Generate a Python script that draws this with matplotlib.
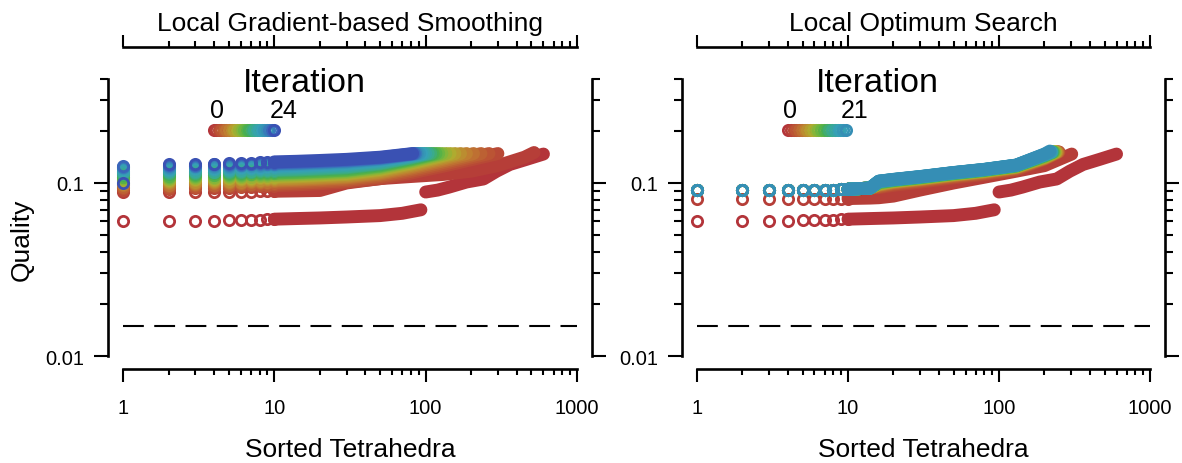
import numpy as np
import matplotlib
matplotlib.use("Agg")
import matplotlib.pyplot as plt
from matplotlib.colors import LinearSegmentedColormap

plt.rcParams['font.family'] = ['Liberation Sans', 'DejaVu Sans']

# ------------------------------------------------------------------ data
PANEL_TITLES = ["Local Gradient-based Smoothing", "Local Optimum Search"]
X_LABEL = "Sorted Tetrahedra"
Y_LABEL = "Quality"
LEGEND_TITLE = "Iteration"
X_TICKS = [1, 10, 100, 1000]
X_TICK_LABELS = ["1", "10", "100", "1000"]
Y_TICKS = [0.01, 0.1]
Y_TICK_LABELS = ["0.01", "0.1"]
Y_MINOR = [0.02, 0.03, 0.04, 0.05, 0.06, 0.07, 0.08, 0.09, 0.2, 0.3, 0.4]
THRESHOLD = 0.015
MAX_ITER = [24, 21]

# iteration 0 (initial mesh, identical in both panels)
INIT_LOW_RANKS = [1, 2, 3, 4, 5, 6, 7, 8, 9, 10, 14, 20, 30, 50, 70, 93]
INIT_LOW_Q = [0.0600, 0.0602, 0.0604, 0.0606, 0.0608, 0.0610, 0.0612, 0.0614,
              0.0616, 0.0618, 0.0623, 0.0628, 0.0636, 0.0648, 0.0668, 0.0700]
INIT_HIGH_RANKS = [100, 120, 143, 186, 241, 294, 360, 464, 600]
INIT_HIGH_Q = [0.0887, 0.0910, 0.0947, 0.1013, 0.1055, 0.117, 0.128, 0.137, 0.147]

# Local Gradient-based Smoothing, iterations 1..24
LGS_KNOTS = [1, 2, 3, 4, 5, 6, 7, 8, 9, 10, 14, 20, 30, 50, 80, 130, 200, 300, 450]
LGS_END_RANK = [520, 300, 262, 232, 207, 186, 170, 156, 145, 136, 128, 122, 117,
                112, 108, 104, 100, 97, 94, 91, 88, 86, 84, 82]
LGS_END_Q = [0.150] + [0.148] * 23
LGS_Q = [
    [0.0887, 0.0888, 0.0889, 0.0890, 0.0891, 0.0892, 0.0893, 0.0894, 0.0895, 0.0896, 0.0900, 0.0905, 0.100, 0.106, 0.109, 0.112, 0.117, 0.126, 0.141],
    [0.091, 0.092, 0.093, 0.0935, 0.094, 0.0945, 0.095, 0.0955, 0.096, 0.0965, 0.0975, 0.099, 0.101, 0.1059, 0.1141, 0.1249, 0.1362],
    [0.093, 0.094, 0.095, 0.0955, 0.096, 0.0965, 0.097, 0.0975, 0.098, 0.0985, 0.0995, 0.101, 0.103, 0.1082, 0.1167, 0.1281, 0.1399],
    [0.095, 0.096, 0.097, 0.0975, 0.098, 0.0985, 0.099, 0.0995, 0.100, 0.1005, 0.1015, 0.103, 0.105, 0.1104, 0.1193, 0.1311, 0.1434],
    [0.097, 0.098, 0.099, 0.0995, 0.100, 0.1005, 0.101, 0.1015, 0.102, 0.1025, 0.1035, 0.105, 0.107, 0.1126, 0.1218, 0.1341, 0.1467],
    [0.0985, 0.0995, 0.1005, 0.101, 0.1015, 0.102, 0.1025, 0.103, 0.1035, 0.104, 0.105, 0.1065, 0.1085, 0.1144, 0.1241, 0.137],
    [0.100, 0.101, 0.102, 0.1025, 0.103, 0.1035, 0.104, 0.1045, 0.105, 0.1055, 0.1065, 0.108, 0.110, 0.1161, 0.1262, 0.1395],
    [0.102, 0.103, 0.104, 0.1045, 0.105, 0.1055, 0.106, 0.1065, 0.107, 0.1075, 0.1085, 0.110, 0.112, 0.1182, 0.1285, 0.1422],
    [0.1035, 0.1045, 0.1055, 0.106, 0.1065, 0.107, 0.1075, 0.108, 0.1085, 0.109, 0.110, 0.1115, 0.1135, 0.1199, 0.1305, 0.1445],
    [0.105, 0.106, 0.107, 0.1075, 0.108, 0.1085, 0.109, 0.1095, 0.110, 0.1105, 0.1115, 0.113, 0.115, 0.1215, 0.1323, 0.1465],
    [0.1065, 0.1075, 0.1085, 0.109, 0.1095, 0.110, 0.1105, 0.111, 0.1115, 0.112, 0.113, 0.1145, 0.1165, 0.1231, 0.134],
    [0.108, 0.109, 0.110, 0.1105, 0.111, 0.1115, 0.112, 0.1125, 0.113, 0.1135, 0.1145, 0.116, 0.118, 0.1246, 0.1355],
    [0.109, 0.110, 0.111, 0.1115, 0.112, 0.1125, 0.113, 0.1135, 0.114, 0.1145, 0.1155, 0.117, 0.119, 0.1257, 0.1367],
    [0.111, 0.112, 0.113, 0.1135, 0.114, 0.1145, 0.115, 0.1155, 0.116, 0.1165, 0.1175, 0.119, 0.121, 0.1275, 0.1384],
    [0.1125, 0.1135, 0.1145, 0.115, 0.1155, 0.116, 0.1165, 0.117, 0.1175, 0.118, 0.119, 0.1205, 0.1225, 0.1289, 0.1396],
    [0.114, 0.115, 0.116, 0.1165, 0.117, 0.1175, 0.118, 0.1185, 0.119, 0.1195, 0.1205, 0.122, 0.124, 0.1303, 0.1408],
    [0.116, 0.117, 0.118, 0.1185, 0.119, 0.1195, 0.120, 0.1205, 0.121, 0.1215, 0.1225, 0.124, 0.126, 0.1321, 0.1422],
    [0.118, 0.119, 0.120, 0.1205, 0.121, 0.1215, 0.122, 0.1225, 0.123, 0.1235, 0.1245, 0.126, 0.128, 0.1338, 0.1433],
    [0.120, 0.121, 0.122, 0.1225, 0.123, 0.1235, 0.124, 0.1245, 0.125, 0.1255, 0.1265, 0.128, 0.130, 0.1354, 0.1443],
    [0.1215, 0.1225, 0.1235, 0.124, 0.1245, 0.125, 0.1255, 0.126, 0.1265, 0.127, 0.128, 0.1295, 0.1315, 0.1367, 0.1452],
    [0.123, 0.124, 0.125, 0.1255, 0.126, 0.1265, 0.127, 0.1275, 0.128, 0.1285, 0.1295, 0.131, 0.133, 0.1379, 0.1461],
    [0.124, 0.125, 0.126, 0.1265, 0.127, 0.1275, 0.128, 0.1285, 0.129, 0.1295, 0.1305, 0.132, 0.134, 0.1387, 0.1466],
    [0.1255, 0.1265, 0.1275, 0.128, 0.1285, 0.129, 0.1295, 0.130, 0.1305, 0.131, 0.132, 0.1335, 0.1355, 0.1399, 0.1471],
    [0.0995, 0.128, 0.129, 0.1295, 0.130, 0.1305, 0.131, 0.1315, 0.132, 0.1325, 0.1335, 0.135, 0.137, 0.141, 0.1476],
]

# Local Optimum Search, iterations 1..21
LOS_KNOTS = [1, 2, 3, 4, 5, 6, 7, 8, 9, 10, 14, 16, 20, 30, 50, 80, 130, 200]
LOS_ITER1_Q = [0.0808, 0.0809, 0.0810, 0.0810, 0.0811, 0.0811, 0.0812, 0.0812, 0.0813,
               0.0813, 0.0818, 0.0822, 0.0840, 0.091, 0.100, 0.108, 0.117, 0.126]
LOS_LOW_Q = [0.0910, 0.0911, 0.0912, 0.0913, 0.0914, 0.0915, 0.0916, 0.0917, 0.0918,
             0.0920, 0.0935]          # ranks 1..14, iterations 2..21
LOS_UPPER_Q = [                       # ranks 16..200, iterations 2..21
    [0.0940, 0.0970, 0.1010, 0.1070, 0.1120, 0.1190, 0.1371],
    [0.0950, 0.0985, 0.1025, 0.1085, 0.1135, 0.1205, 0.1377],
    [0.0960, 0.0995, 0.1035, 0.1095, 0.1145, 0.1215, 0.1383],
    [0.0970, 0.1005, 0.1045, 0.1105, 0.1155, 0.1225, 0.1389],
    [0.0975, 0.1010, 0.1050, 0.1110, 0.1160, 0.1230, 0.1395],
    [0.0980, 0.1015, 0.1055, 0.1115, 0.1165, 0.1235, 0.1401],
    [0.0985, 0.1020, 0.1060, 0.1120, 0.1170, 0.1240, 0.1407],
    [0.0990, 0.1024, 0.1064, 0.1124, 0.1174, 0.1244, 0.1413],
    [0.0995, 0.1028, 0.1068, 0.1128, 0.1178, 0.1248, 0.1419],
    [0.1000, 0.1031, 0.1071, 0.1131, 0.1181, 0.1251, 0.1425],
    [0.1004, 0.1034, 0.1074, 0.1134, 0.1184, 0.1254, 0.1431],
    [0.1008, 0.1037, 0.1077, 0.1137, 0.1187, 0.1257, 0.1437],
    [0.1012, 0.1039, 0.1079, 0.1139, 0.1189, 0.1259, 0.1443],
    [0.1015, 0.1041, 0.1081, 0.1141, 0.1191, 0.1261, 0.1446],
    [0.1018, 0.1043, 0.1083, 0.1143, 0.1193, 0.1263, 0.1449],
    [0.1020, 0.1045, 0.1085, 0.1145, 0.1195, 0.1265, 0.1452],
    [0.1022, 0.1046, 0.1086, 0.1146, 0.1196, 0.1266, 0.1455],
    [0.1023, 0.1047, 0.1087, 0.1147, 0.1197, 0.1267, 0.1461],
    [0.1024, 0.1048, 0.1088, 0.1148, 0.1198, 0.1268, 0.1464],
    [0.1025, 0.1050, 0.1090, 0.1150, 0.1200, 0.1270, 0.1470],
]
LOS_END_RANK = [303, 250, 248, 246, 244, 242, 240, 238, 236, 234, 232, 230, 228,
                226, 225, 224, 223, 222, 220, 219, 217]
LOS_END_Q = [0.147] + [0.151] * 19 + [0.153]

# colour scale (iteration 0 .. 24)
CMAP_POS = [0.0, 0.12, 0.25, 0.37, 0.47, 0.57, 0.68, 0.79, 0.875, 0.94, 1.0]
CMAP_HEX = ['#b3343a', '#bb5234', '#bf7e31', '#b2aa2e', '#7db83c', '#48af4c',
            '#38aa95', '#36a0b8', '#3590b5', '#3a70bd', '#3a51b3']

# ------------------------------------------------------------------ style / layout
W, H = 1182, 464
cmap = LinearSegmentedColormap.from_list("iter", list(zip(CMAP_POS, CMAP_HEX)))
MS, MEW, LWB = 7.4, 2.0, 9.3
TICK_FS, LAB_FS = 14.5, 19

fig = plt.figure(figsize=(W / 100, H / 100), dpi=100)


def add_px_axes(x0, x1, y0, y1):
    return fig.add_axes([x0 / W, 1 - y1 / H, (x1 - x0) / W, (y1 - y0) / H])


def draw_series(ax, ranks, q, color, z, ring_max=10):
    ranks = np.asarray(ranks, float)
    q = np.asarray(q, float)
    line = ranks >= ring_max
    ring = ranks <= ring_max
    if line.sum() >= 2:
        ax.plot(ranks[line], q[line], '-', color=color, lw=LWB,
                solid_capstyle='round', solid_joinstyle='round', zorder=z)
    if ring.any():
        ax.plot(ranks[ring], q[ring], ls='none', marker='o', ms=MS, mfc='none',
                mec=color, mew=MEW, zorder=z + 0.5)


def style_axes(ax):
    ax.set_xscale('log')
    ax.set_yscale('log')
    ax.set_xlim(0.796, 1256)
    ax.set_ylim(0.008413, 0.6110)
    for s in ax.spines.values():
        s.set_linewidth(1.9)
    ax.spines['bottom'].set_bounds(1, 1000)
    ax.spines['top'].set_bounds(1, 1000)
    ax.spines['left'].set_bounds(0.01, 0.4)
    ax.spines['right'].set_bounds(0.01, 0.4)
    ax.set_xticks(X_TICKS)
    ax.set_xticklabels(X_TICK_LABELS)
    xminor = [m * d for d in (1, 10, 100) for m in range(2, 10)]
    ax.set_xticks(xminor, minor=True)
    ax.set_xticklabels([], minor=True)
    ax.set_yticks(Y_TICKS)
    ax.set_yticklabels(Y_TICK_LABELS)
    ax.set_yticks(Y_MINOR, minor=True)
    ax.set_yticklabels([], minor=True)
    ax.tick_params(which='both', direction='out', top=True, right=True,
                   labeltop=False, labelright=False, width=1.5, labelsize=TICK_FS)
    ax.tick_params(axis='x', which='major', length=9, pad=12)
    ax.tick_params(axis='x', which='minor', length=4.5)
    ax.tick_params(axis='y', which='major', length=10, pad=7)
    ax.tick_params(axis='y', which='minor', length=5.5)
    ax.plot([X_TICKS[0], X_TICKS[-1]], [THRESHOLD, THRESHOLD], color='black',
            lw=1.5, ls=(0, (10, 5)), zorder=1)


def legend(ax, n_max, x0, x1, y):
    xs = np.linspace(x0, x1, n_max + 1)
    for k in range(n_max + 1):
        ax.plot(xs[k], y, transform=ax.transAxes, marker='o', ms=MS, mfc='none',
                mec=cmap(k / 24), mew=MEW, clip_on=False, zorder=50 + k)


def ftext(x, y, s, **kw):
    fig.text(x / W, 1 - y / H, s, **kw)


axL = add_px_axes(108, 592, 48, 370)
axR = add_px_axes(682, 1165, 48, 370)
for ax in (axL, axR):
    style_axes(ax)
    draw_series(ax, INIT_LOW_RANKS, INIT_LOW_Q, cmap(0.0), 2)
    draw_series(ax, INIT_HIGH_RANKS, INIT_HIGH_Q, cmap(0.0), 2)

# left panel
for i, row in enumerate(LGS_Q):
    k = i + 1
    n = len(row)
    ranks = LGS_KNOTS[:n] + [LGS_END_RANK[i]]
    q = row + [LGS_END_Q[i]]
    draw_series(axL, ranks, q, cmap(k / 24), 2 + k)

# right panel
for i in range(MAX_ITER[1]):
    k = i + 1
    if k == 1:
        q = LOS_ITER1_Q
    else:
        q = LOS_LOW_Q + LOS_UPPER_Q[i - 1]
    ranks = LOS_KNOTS[:len(q)] + [LOS_END_RANK[i]]
    q = q + [LOS_END_Q[i]]
    draw_series(axR, ranks, q, cmap(k / 24), 2 + k)

legend(axL, MAX_ITER[0], 0.219, 0.343, 0.742)
legend(axR, MAX_ITER[1], 0.2195, 0.3395, 0.742)

# texts
ftext(350, 31, PANEL_TITLES[0], ha='center', va='baseline', fontsize=LAB_FS)
ftext(923, 31, PANEL_TITLES[1], ha='center', va='baseline', fontsize=LAB_FS)
ftext(350, 457, X_LABEL, ha='center', va='baseline', fontsize=LAB_FS)
ftext(923, 457, X_LABEL, ha='center', va='baseline', fontsize=LAB_FS)
ftext(22, 240, Y_LABEL, ha='center', va='center', rotation=90, fontsize=LAB_FS)
ftext(304, 92, LEGEND_TITLE, ha='center', va='baseline', fontsize=24.5)
ftext(877, 92, LEGEND_TITLE, ha='center', va='baseline', fontsize=24.5)
ftext(217, 118, "0", ha='center', va='baseline', fontsize=18)
ftext(284, 118, str(MAX_ITER[0]), ha='center', va='baseline', fontsize=18)
ftext(790, 118, "0", ha='center', va='baseline', fontsize=18)
ftext(855, 118, str(MAX_ITER[1]), ha='center', va='baseline', fontsize=18)

fig.savefig("out.png", dpi=100)
